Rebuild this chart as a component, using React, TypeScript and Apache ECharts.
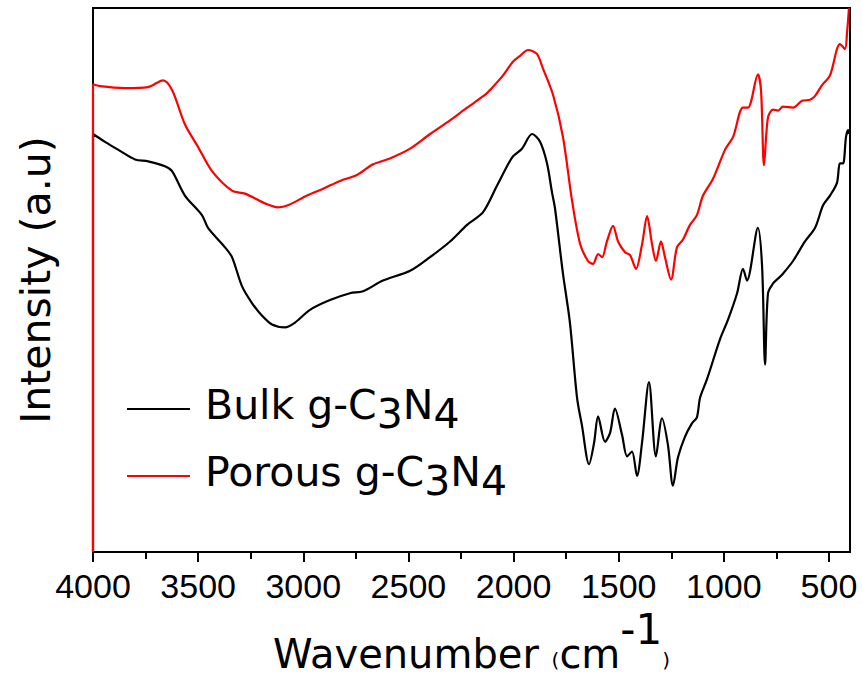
import React, { useEffect, useRef } from 'react';
import * as echarts from 'echarts';

const wavenumberTicks = [4000, 3500, 3000, 2500, 2000, 1500, 1000, 500];
const minorTicks = [3750, 3250, 2750, 2250, 1750, 1250, 750];

const seriesNames = ['Bulk g-C3N4', 'Porous g-C3N4'];

const bulkWavenumber = [4000, 4000, 3943, 3881, 3800, 3738, 3658, 3624, 3563, 3482, 3453, 3372, 3339, 3291, 3244, 3196, 3149, 3087, 3039, 2968, 2873, 2778, 2716, 2621, 2492, 2397, 2302, 2221, 2145, 2079, 2031, 2003, 1960, 1912, 1874, 1841, 1817, 1803, 1765, 1732, 1698, 1675, 1641, 1617, 1598, 1565, 1541, 1518, 1484, 1460, 1437, 1413, 1389, 1356, 1323, 1294, 1266, 1242, 1218, 1185, 1151, 1128, 1113, 1080, 1018, 980, 937, 909, 890, 838, 818, 804, 790, 766, 742, 719, 671, 614, 566, 528, 495, 462, 448, 433, 419, 409, 405];
const bulkIntensity = [0, 428, 420, 412, 402, 400, 395, 390, 365, 345, 332, 312, 302, 272, 255, 242, 233, 230, 235, 248, 258, 265, 267, 278, 288, 302, 318, 335, 348, 375, 395, 405, 413, 428, 420, 398, 368, 352, 285, 235, 158, 130, 90, 112, 139, 113, 122, 147, 120, 98, 103, 78, 112, 174, 98, 137, 110, 68, 97, 118, 132, 138, 158, 177, 218, 238, 265, 290, 278, 332, 292, 192, 265, 275, 280, 285, 298, 318, 332, 355, 365, 378, 398, 398, 425, 432, 428];

const porousWavenumber = [4000, 4000, 3967, 3848, 3738, 3667, 3624, 3563, 3501, 3434, 3339, 3277, 3182, 3120, 3073, 2982, 2906, 2825, 2745, 2668, 2588, 2492, 2397, 2302, 2221, 2136, 2112, 2050, 2003, 1969, 1931, 1889, 1860, 1812, 1765, 1722, 1684, 1646, 1622, 1598, 1579, 1556, 1527, 1503, 1470, 1446, 1418, 1389, 1365, 1342, 1323, 1299, 1280, 1251, 1223, 1194, 1161, 1128, 1099, 1052, 994, 956, 909, 885, 838, 823, 809, 790, 766, 742, 719, 671, 628, 590, 566, 533, 495, 462, 448, 424, 414, 405];
const porousIntensity = [0, 479, 477, 475, 476, 483, 473, 438, 415, 390, 370, 367, 357, 353, 355, 365, 372, 380, 386, 397, 403, 413, 428, 442, 455, 468, 473, 488, 502, 508, 514, 510, 495, 468, 425, 360, 316, 298, 295, 305, 302, 318, 334, 318, 307, 304, 290, 315, 344, 316, 298, 318, 302, 279, 312, 320, 335, 345, 365, 382, 412, 425, 455, 455, 489, 472, 396, 445, 453, 452, 456, 455, 462, 463, 467, 478, 488, 515, 520, 515, 532, 557];

const zip = (xs: number[], ys: number[]) => xs.map((x, i) => [x, ys[i]]);

const legendLabel = (name: string) => {
  const m = name.match(/^(.*C)(\d)N(\d)$/);
  if (!m) return `{f|${name}}`;
  return `{f|${m[1]}}{b|${m[2]}}{a|N}{b|${m[3]}}`;
};

const TITLE_FONT = 'DejaVu Sans';
const TICK_FONT = 'Liberation Sans';

export default function App() {
  const ref = useRef<HTMLDivElement>(null);
  useEffect(() => {
    const chart = echarts.init(ref.current!, null, { renderer: 'svg' });
    const tickLine = { color: '#000', width: 2 };
    chart.setOption({
      animation: false,
      backgroundColor: '#fff',
      grid: { left: 93, right: 12, top: 8, bottom: 114, show: true, borderColor: '#000', borderWidth: 2 },
      xAxis: [
        {
          type: 'value', min: 400, max: 4000, inverse: true, position: 'bottom',
          axisLine: { show: true, lineStyle: { color: '#000', width: 2 } },
          axisTick: { show: true, length: 10, lineStyle: tickLine, customValues: wavenumberTicks },
          axisLabel: {
            customValues: wavenumberTicks, margin: 17, fontSize: 34, fontFamily: TICK_FONT, color: '#000',
            formatter: (v: number) => String(v),
          },
          splitLine: { show: false },
          name: '{t|Wavenumber }{s|(}{t|cm}{p|-1}{s|)}',
          nameLocation: 'middle',
          nameGap: 40,
          nameTextStyle: {
            color: '#000',
            rich: {
              t: { fontSize: 40, lineHeight: 40, fontFamily: TITLE_FONT, color: '#000', verticalAlign: 'bottom' },
              s: { fontSize: 20, lineHeight: 22, fontFamily: TITLE_FONT, color: '#000', verticalAlign: 'bottom', padding: [0, 0, 4, 0] },
              p: { fontSize: 42, lineHeight: 42, fontFamily: TITLE_FONT, color: '#000', verticalAlign: 'bottom', padding: [0, 0, 24, 0] },
            },
          },
        },
        {
          type: 'value', min: 400, max: 4000, inverse: true, position: 'bottom',
          axisLine: { show: false },
          axisTick: { show: true, length: 7, lineStyle: tickLine, customValues: minorTicks },
          axisLabel: { show: false },
          splitLine: { show: false },
        },
      ],
      yAxis: {
        type: 'value', min: 0, max: 557,
        axisLine: { show: true, lineStyle: { color: '#000', width: 2 } },
        axisTick: { show: false },
        axisLabel: { show: false },
        splitLine: { show: false },
        name: 'Intensity (a.u)',
        nameLocation: 'middle',
        nameGap: 37,
        nameTextStyle: { fontSize: 41, fontFamily: TITLE_FONT, color: '#000' },
      },
      legend: {
        orient: 'vertical', left: 127, top: 384, padding: 0,
        itemWidth: 63, itemHeight: 2, itemGap: 17, icon: 'rect',
        data: seriesNames,
        formatter: legendLabel,
        textStyle: {
          color: '#000',
          rich: {
            f: { fontSize: 41, lineHeight: 40, fontFamily: TITLE_FONT, color: '#000', padding: [0, 0, 9, 10] },
            a: { fontSize: 41, lineHeight: 40, fontFamily: TITLE_FONT, color: '#000', padding: [0, 0, 9, 0] },
            b: { fontSize: 41, lineHeight: 40, fontFamily: TITLE_FONT, color: '#000', padding: [9, 0, 0, 0] },
          },
        },
      },
      series: [
        {
          name: seriesNames[0], type: 'line', data: zip(bulkWavenumber, bulkIntensity),
          symbol: 'none', showSymbol: false, smooth: 0.3,
          lineStyle: { color: '#000', width: 2.2 }, itemStyle: { color: '#000' },
        },
        {
          name: seriesNames[1], type: 'line', data: zip(porousWavenumber, porousIntensity),
          symbol: 'none', showSymbol: false, smooth: 0.3,
          lineStyle: { color: '#ff0000', width: 2.2 }, itemStyle: { color: '#ff0000' },
        },
      ],
    });
    return () => chart.dispose();
  }, []);
  return <div ref={ref} style={{ position: 'absolute', left: 0, top: 0, width: 862, height: 679 }} />;
}
